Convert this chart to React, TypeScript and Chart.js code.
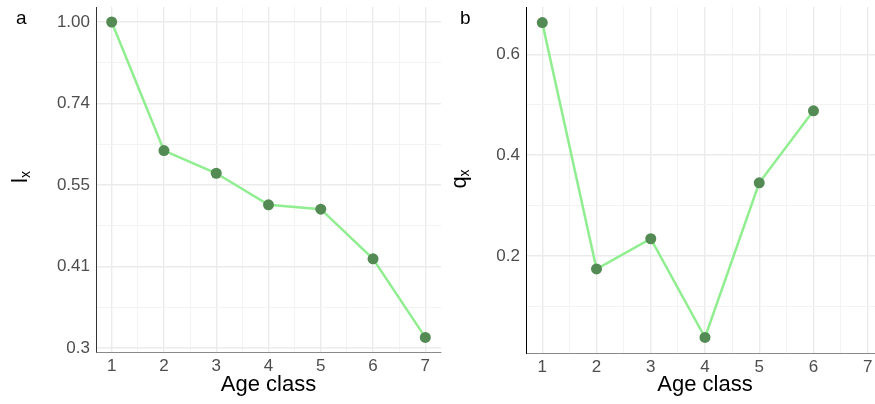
import React, { useEffect, useRef } from 'react';
import { Chart, registerables } from 'chart.js';

Chart.register(...registerables);

// ---- data ----
const lxAges = [1, 2, 3, 4, 5, 6, 7];
const lxValues = [1.0, 0.622, 0.572, 0.509, 0.501, 0.417, 0.312];
const qxAges = [1, 2, 3, 4, 5, 6];
const qxValues = [0.663, 0.174, 0.234, 0.038, 0.345, 0.488];

const xTickValues = [1, 2, 3, 4, 5, 6, 7];
const xMinorValues = [1.5, 2.5, 3.5, 4.5, 5.5, 6.5];
const lxTickValues = [0.3, 0.4054, 0.5477, 0.7401, 1.0];
const lxTickLabels = ['0.3', '0.41', '0.55', '0.74', '1.00'];
const qxTickValues = [0.2, 0.4, 0.6];
const qxTickLabels = ['0.2', '0.4', '0.6'];
const qxMinorValues = [0.1, 0.3, 0.5];

const FONT = '"Liberation Sans", Arial, Helvetica, sans-serif';
const POINT_COLOR = '#548B54';
const LINE_COLOR = '#90EE90';
const MAJOR_GRID = '#EBEBEB';
const MINOR_GRID = '#F3F3F3';

const isIn = (arr: number[], v: number) => arr.some((a) => Math.abs(a - v) < 1e-6);

const zeroPad = (scale: any) => {
  scale.paddingTop = 0;
  scale.paddingBottom = 0;
  scale.paddingLeft = 0;
  scale.paddingRight = 0;
};

const panelText = {
  id: 'panelText',
  afterDraw(chart: any, _args: any, opts: any) {
    const { ctx, chartArea } = chart;
    ctx.save();
    ctx.fillStyle = '#000000';
    ctx.textBaseline = 'alphabetic';
    // panel letter
    ctx.font = `19px ${FONT}`;
    ctx.textAlign = 'left';
    ctx.fillText(opts.letter, opts.letterX, opts.letterY);
    // x title
    ctx.font = `22px ${FONT}`;
    ctx.textAlign = 'center';
    ctx.fillText(opts.xTitle, (chartArea.left + chartArea.right) / 2, opts.xTitleY);
    // y title (rotated, with subscript)
    const mainFont = `22px ${FONT}`;
    const subFont = `14px ${FONT}`;
    ctx.translate(opts.yTitleX, opts.yTitleCenter);
    ctx.rotate(-Math.PI / 2);
    ctx.textAlign = 'left';
    ctx.font = mainFont;
    const w1 = ctx.measureText(opts.yMain).width;
    ctx.font = subFont;
    const w2 = ctx.measureText(opts.ySub).width;
    const start = -(w1 + w2) / 2;
    ctx.font = mainFont;
    ctx.fillText(opts.yMain, start, 0);
    ctx.font = subFont;
    ctx.fillText(opts.ySub, start + w1, 3);
    ctx.restore();
  },
};

function xScale(borderColor: string, height: number) {
  return {
    type: 'linear',
    min: 0.7,
    max: 7.3,
    afterBuildTicks: (scale: any) => {
      scale.ticks = [...xTickValues, ...xMinorValues].sort((a, b) => a - b).map((v) => ({ value: v }));
    },
    afterFit: (scale: any) => {
      scale.height = height;
      zeroPad(scale);
    },
    ticks: {
      autoSkip: false,
      maxRotation: 0,
      padding: 4,
      color: '#4D4D4D',
      font: { family: FONT, size: 17 },
      callback: (v: number) => (isIn(xTickValues, v) ? String(v) : ''),
    },
    grid: {
      drawTicks: false,
      color: (c: any) => (c.tick && isIn(xTickValues, c.tick.value) ? MAJOR_GRID : MINOR_GRID),
      lineWidth: (c: any) => (c.tick && isIn(xTickValues, c.tick.value) ? 1.4 : 1),
    },
    border: { display: true, color: borderColor, width: 1 },
  };
}

export default function App() {
  const leftRef = useRef<HTMLCanvasElement>(null);
  const rightRef = useRef<HTMLCanvasElement>(null);

  useEffect(() => {
    const charts: Chart[] = [];
    if (leftRef.current) {
      charts.push(
        new Chart(leftRef.current, {
          type: 'line',
          data: {
            datasets: [
              {
                data: lxAges.map((a, i) => ({ x: a, y: lxValues[i] })),
                borderColor: LINE_COLOR,
                borderWidth: 2.5,
                pointBackgroundColor: POINT_COLOR,
                pointBorderColor: POINT_COLOR,
                pointRadius: 5.5,
                pointBorderWidth: 0,
                tension: 0,
              },
            ],
          },
          options: {
            responsive: false,
            animation: false,
            layout: { padding: { left: 0, right: 9, top: 7, bottom: 0 } },
            plugins: {
              legend: { display: false },
              tooltip: { enabled: false },
              panelText: {
                letter: 'a',
                letterX: 16,
                letterY: 24,
                xTitle: 'Age class',
                xTitleY: 391,
                yMain: 'l',
                ySub: 'x',
                yTitleX: 27,
                yTitleCenter: 177,
              },
            } as any,
            scales: {
              x: xScale('#8A8A8A', 52) as any,
              y: {
                type: 'logarithmic',
                min: 0.2956,
                max: 1.057,
                afterBuildTicks: (scale: any) => {
                  const minors: number[] = [];
                  for (let i = 0; i < lxTickValues.length - 1; i++) {
                    minors.push(Math.sqrt(lxTickValues[i] * lxTickValues[i + 1]));
                  }
                  scale.ticks = [...lxTickValues, ...minors].sort((a, b) => a - b).map((v) => ({ value: v }));
                },
                afterFit: (scale: any) => {
                  scale.width = 96;
                  zeroPad(scale);
                },
                ticks: {
                  autoSkip: false,
                  padding: 6,
                  color: '#4D4D4D',
                  font: { family: FONT, size: 17 },
                  callback: (v: number) => {
                    const idx = lxTickValues.findIndex((t) => Math.abs(t - v) < 1e-6);
                    return idx >= 0 ? lxTickLabels[idx] : '';
                  },
                },
                grid: {
                  drawTicks: false,
                  color: (c: any) => (c.tick && isIn(lxTickValues, c.tick.value) ? MAJOR_GRID : MINOR_GRID),
                  lineWidth: (c: any) => (c.tick && isIn(lxTickValues, c.tick.value) ? 1.4 : 1),
                },
                border: { display: true, color: '#333333', width: 1 },
              } as any,
            },
          },
          plugins: [panelText as any],
        })
      );
    }
    if (rightRef.current) {
      charts.push(
        new Chart(rightRef.current, {
          type: 'line',
          data: {
            datasets: [
              {
                data: qxAges.map((a, i) => ({ x: a, y: qxValues[i] })),
                borderColor: LINE_COLOR,
                borderWidth: 2.5,
                pointBackgroundColor: POINT_COLOR,
                pointBorderColor: POINT_COLOR,
                pointRadius: 5.5,
                pointBorderWidth: 0,
                tension: 0,
              },
            ],
          },
          options: {
            responsive: false,
            animation: false,
            layout: { padding: { left: 0, right: 16, top: 7, bottom: 0 } },
            plugins: {
              legend: { display: false },
              tooltip: { enabled: false },
              panelText: {
                letter: 'b',
                letterX: 20,
                letterY: 24,
                xTitle: 'Age class',
                xTitleY: 391,
                yMain: 'q',
                ySub: 'x',
                yTitleX: 26,
                yTitleCenter: 179,
              },
            } as any,
            scales: {
              x: xScale('#8A8A8A', 51) as any,
              y: {
                type: 'linear',
                min: 0.0072,
                max: 0.694,
                afterBuildTicks: (scale: any) => {
                  scale.ticks = [...qxTickValues, ...qxMinorValues].sort((a, b) => a - b).map((v) => ({ value: v }));
                },
                afterFit: (scale: any) => {
                  scale.width = 86;
                  zeroPad(scale);
                },
                ticks: {
                  autoSkip: false,
                  padding: 6,
                  color: '#4D4D4D',
                  font: { family: FONT, size: 17 },
                  callback: (v: number) => {
                    const idx = qxTickValues.findIndex((t) => Math.abs(t - v) < 1e-6);
                    return idx >= 0 ? qxTickLabels[idx] : '';
                  },
                },
                grid: {
                  drawTicks: false,
                  color: (c: any) => (c.tick && isIn(qxTickValues, c.tick.value) ? MAJOR_GRID : MINOR_GRID),
                  lineWidth: (c: any) => (c.tick && isIn(qxTickValues, c.tick.value) ? 1.4 : 1),
                },
                border: { display: true, color: '#000000', width: 1 },
              } as any,
            },
          },
          plugins: [panelText as any],
        })
      );
    }
    return () => charts.forEach((c) => c.destroy());
  }, []);

  return (
    <div
      style={{
        position: 'fixed',
        left: 0,
        top: 0,
        width: 875,
        height: 404,
        overflow: 'hidden',
        background: '#ffffff',
      }}
    >
      <canvas
        ref={leftRef}
        width={450}
        height={404}
        style={{ position: 'absolute', left: 0, top: 0, width: 450, height: 404 }}
      />
      <canvas
        ref={rightRef}
        width={460}
        height={404}
        style={{ position: 'absolute', left: 440, top: 0, width: 460, height: 404 }}
      />
    </div>
  );
}
